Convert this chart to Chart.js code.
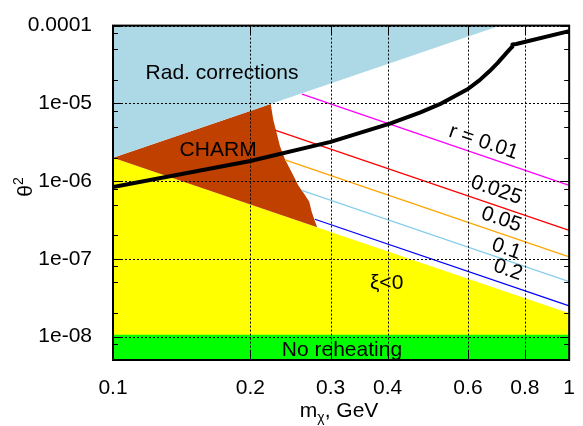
<!DOCTYPE html>
<html>
<head>
<meta charset="utf-8">
<script src="https://cdn.jsdelivr.net/npm/chart.js@4.4.0/dist/chart.umd.min.js"></script>
<style>
  html, body { margin: 0; padding: 0; background: #fff; }
  canvas { display: block; }
</style>
</head>
<body>
<canvas id="grafica" width="583" height="426"></canvas>
<script>
// ejes
const xTicks = [0.1, 0.2, 0.3, 0.4, 0.6, 0.8, 1];
const xTickLabels = ["0.1", "0.2", "0.3", "0.4", "0.6", "0.8", "1"];
const yTicks = [1e-8, 1e-7, 1e-6, 1e-5, 1e-4];
const yTickLabels = ["1e-08", "1e-07", "1e-06", "1e-05", "0.0001"];
const yMinor = [2, 5, 8];

// regiones
const radM = [0.1, 0.1, 0.7071];
const radT = [1e-4, 2e-6, 1e-4];
const yellowM = [0.1, 1, 1, 0.1];
const yellowT = [2e-6, 2e-8, 5e-9, 5e-9];
const greenM = [0.1, 1, 1, 0.1];
const greenT = [5e-9, 5e-9, 1.06e-8, 1.06e-8];
const charmM = [0.1, 0.2217, 0.2246, 0.2285, 0.2323, 0.2382, 0.2464, 0.2547, 0.2635, 0.2693, 0.2725, 0.2771, 0.2803];
const charmT = [2e-6, 9.8e-6, 6.1e-6, 4.13e-6, 2.81e-6, 1.91e-6, 1.30e-6, 8.83e-7, 6.61e-7, 5.44e-7, 4.07e-7, 3.05e-7, 2.55e-7];

// curva negra
const curveM = [0.1, 0.2, 0.3, 0.3476, 0.4045, 0.4706, 0.5205, 0.6, 0.6365, 0.6694, 0.6972, 0.7281, 0.7502, 0.751, 0.7656, 1];
const curveT = [8.38e-7, 1.81e-6, 3.2e-6, 4.18e-6, 5.48e-6, 7.59e-6, 9.76e-6, 1.53e-5, 1.99e-5, 2.6e-5, 3.31e-5, 4.42e-5, 5.36e-5, 5.73e-5, 5.8e-5, 8.5e-5];

// lineas de r
const rValues = ["r = 0.01", "0.025", "0.05", "0.1", "0.2"];
const rStartM = [0.2596, 0.2265, 0.2382, 0.2592, 0.2771];
const rStartT = [1.31e-5, 4.54e-6, 1.87e-6, 7.59e-7, 3.23e-7];
const rEndM = [1, 1, 1, 1, 1];
const rEndT = [8.83e-7, 2.33e-7, 1.06e-7, 5.1e-8, 2.48e-8];
const rColors = ["#ff00ff", "#ff0000", "#ffa500", "#87ceeb", "#0000ff"];
const rLabelM = [0.649, 0.692, 0.710, 0.728, 0.734];
const rLabelT = [3.16e-6, 7.64e-7, 3.2e-7, 1.34e-7, 7.17e-8];

// textos
const notes = ["Rad. corrections", "CHARM", "ξ<0", "No reheating"];
const noteM = [0.1734, 0.170, 0.398, 0.3176];
const noteT = [2.47e-5, 2.51e-6, 4.87e-8, 6.6e-9];

const FONT = '"Liberation Sans", Arial, sans-serif';
const FS = 21;

function pts(xs, ys) {
  return xs.map((x, i) => ({ x: x, y: ys[i] }));
}

function region(xs, ys, color, order) {
  return {
    data: pts(xs, ys),
    fill: "shape",
    backgroundColor: color,
    borderColor: "rgba(0,0,0,0)",
    borderWidth: 1,
    order: order,
  };
}

const datasets = [
  region(yellowM, yellowT, "#ffff00", 12),
  region(greenM, greenT, "#00ff00", 11),
  region(charmM, charmT, "#c04000", 10),
  region(radM, radT, "#add8e6", 9),
];

rValues.forEach((r, i) => {
  datasets.push({
    data: pts([rStartM[i], rEndM[i]], [rStartT[i], rEndT[i]]),
    borderColor: rColors[i],
    borderWidth: 1.3,
    fill: false,
    order: 8,
  });
});

datasets.push({
  data: pts(curveM, curveT),
  borderColor: "#000",
  borderWidth: 4,
  borderJoinStyle: "round",
  fill: false,
  order: 1,
});

// ticks internos, rejilla, marco y textos
const decor = {
  id: "decor",
  afterDraw(chart) {
    const { ctx, chartArea: a, scales } = chart;
    const x = scales.x, y = scales.y;
    ctx.save();

    // rejilla punteada
    ctx.strokeStyle = "#000";
    ctx.lineWidth = 1;
    ctx.setLineDash([2, 2]);
    ctx.beginPath();
    for (const v of xTicks) {
      const px = Math.round(x.getPixelForValue(v)) + 0.5;
      ctx.moveTo(px, a.top); ctx.lineTo(px, a.bottom);
    }
    for (const v of yTicks) {
      const py = Math.round(y.getPixelForValue(v)) + 0.5;
      ctx.moveTo(a.left, py); ctx.lineTo(a.right, py);
    }
    ctx.stroke();
    ctx.setLineDash([]);

    ctx.beginPath();
    for (let e = -9; e <= -5; e++) {
      for (const k of yMinor) {
        const v = k * Math.pow(10, e);
        if (v < y.min || v > y.max) continue;
        const py = Math.round(y.getPixelForValue(v)) + 0.5;
        ctx.moveTo(a.left, py); ctx.lineTo(a.left + 5, py);
        ctx.moveTo(a.right, py); ctx.lineTo(a.right - 5, py);
      }
    }
    for (const v of yTicks) {
      const py = Math.round(y.getPixelForValue(v)) + 0.5;
      ctx.moveTo(a.left, py); ctx.lineTo(a.left + 9, py);
      ctx.moveTo(a.right, py); ctx.lineTo(a.right - 9, py);
    }
    for (const v of xTicks) {
      const px = Math.round(x.getPixelForValue(v)) + 0.5;
      ctx.moveTo(px, a.bottom); ctx.lineTo(px, a.bottom - 9);
      ctx.moveTo(px, a.top); ctx.lineTo(px, a.top + 9);
    }
    ctx.stroke();

    ctx.lineWidth = 2;
    ctx.strokeRect(a.left, a.top, a.right - a.left, a.bottom - a.top);

    ctx.fillStyle = "#000";
    ctx.font = FS + "px " + FONT;
    ctx.textAlign = "center";
    ctx.textBaseline = "middle";
    notes.forEach((t, i) => {
      ctx.fillText(t, x.getPixelForValue(noteM[i]), y.getPixelForValue(noteT[i]));
    });

    rValues.forEach((t, i) => {
      const ang = Math.atan2(
        y.getPixelForValue(rEndT[i]) - y.getPixelForValue(rStartT[i]),
        x.getPixelForValue(rEndM[i]) - x.getPixelForValue(rStartM[i])
      );
      ctx.save();
      ctx.translate(x.getPixelForValue(rLabelM[i]), y.getPixelForValue(rLabelT[i]));
      ctx.rotate(ang);
      ctx.fillText(t, 0, 0);
      ctx.restore();
    });

    // titulo eje y: theta^2
    ctx.save();
    ctx.translate(32, 187);
    ctx.rotate(-Math.PI / 2);
    ctx.textAlign = "left";
    ctx.textBaseline = "alphabetic";
    ctx.font = FS + "px " + FONT;
    const w1 = ctx.measureText("θ").width;
    ctx.font = "14px " + FONT;
    const w2 = ctx.measureText("2").width;
    const s = -(w1 + w2) / 2;
    ctx.font = FS + "px " + FONT;
    ctx.fillText("θ", s, 0);
    ctx.font = "14px " + FONT;
    ctx.fillText("2", s + w1, -9);
    ctx.restore();

    // titulo eje x: m_chi, GeV
    ctx.textAlign = "left";
    ctx.textBaseline = "alphabetic";
    ctx.font = FS + "px " + FONT;
    const m1 = ctx.measureText("m").width;
    const m3 = ctx.measureText(", GeV").width;
    ctx.font = "14px " + FONT;
    const m2 = ctx.measureText("χ").width;
    const cx = (a.left + a.right) / 2 - (m1 + m2 + m3) / 2 - 2;
    const by = 417;
    ctx.font = FS + "px " + FONT;
    ctx.fillText("m", cx, by);
    ctx.font = "14px " + FONT;
    ctx.fillText("χ", cx + m1, by + 5);
    ctx.font = FS + "px " + FONT;
    ctx.fillText(", GeV", cx + m1 + m2, by);
    ctx.restore();
  },
};

const canvas = document.getElementById("grafica");
const grafico = new Chart(canvas.getContext("2d"), {
  type: "line",
  data: { datasets: datasets },
  options: {
    responsive: false,
    animation: false,
    layout: { padding: { top: 17, right: 13, left: 0, bottom: 0 } },
    elements: { point: { radius: 0 }, line: { tension: 0 } },
    plugins: { legend: { display: false }, tooltip: { enabled: false } },
    scales: {
      x: {
        type: "logarithmic",
        min: 0.1,
        max: 1,
        afterBuildTicks: (s) => { s.ticks = xTicks.map((v) => ({ value: v })); },
        afterFit: (s) => { s.height = 66; },
        ticks: {
          callback: (v, i) => xTickLabels[i],
          font: { family: FONT, size: FS },
          color: "#000",
          padding: 8,
          maxRotation: 0,
          autoSkip: false,
        },
        grid: { display: false },
        border: { display: false },
      },
      y: {
        type: "logarithmic",
        min: 5e-9,
        max: 1e-4,
        afterBuildTicks: (s) => { s.ticks = yTicks.map((v) => ({ value: v })); },
        afterFit: (s) => { s.width = 113; },
        ticks: {
          callback: (v, i) => yTickLabels[i],
          font: { family: FONT, size: FS },
          color: "#000",
          padding: 13,
          autoSkip: false,
        },
        grid: { display: false },
        border: { display: false },
      },
    },
  },
  plugins: [decor],
});
</script>
</body>
</html>
